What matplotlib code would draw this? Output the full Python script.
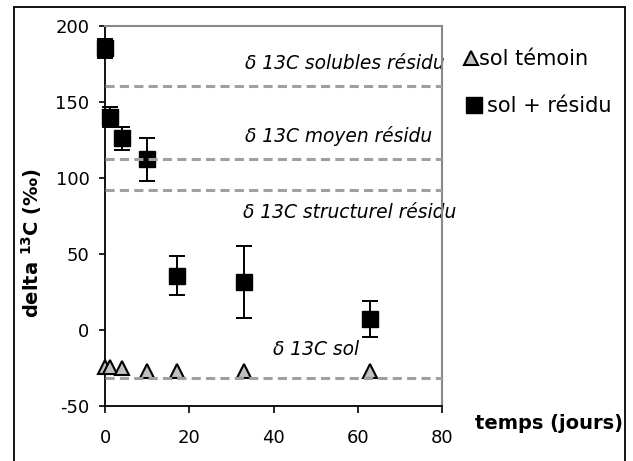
import matplotlib
matplotlib.use("Agg")
import matplotlib.pyplot as plt
from matplotlib.lines import Line2D
from matplotlib.patches import Rectangle

plt.rcParams["axes.unicode_minus"] = False

# sol + residu (moyenne et ecart)
jours_residu = [0, 1, 4, 10, 17, 33, 63]
delta_residu = [185, 140, 126, 112, 35.5, 31.5, 7]
erreur_residu = [6, 6.7, 7.5, 14, 13, 23.5, 12]

# sol temoin
jours_temoin = [0, 1, 4, 10, 17, 33, 63]
delta_temoin = [-24.5, -24.5, -25, -27, -27, -27, -27]

# valeurs de reference (lignes pointillees)
ref_noms = ["solubles résidu", "moyen résidu", "structurel résidu", "sol"]
ref_valeurs = [160, 112.5, 92, -32]
ref_texte_x = [33.3, 33.3, 32.8, 39.9]
ref_texte_y = [171.5, 123.5, 73.5, -16.6]

W, H = 633, 461
fig = plt.figure(figsize=(W / 100, H / 100), dpi=100)
ax = fig.add_axes([105.3 / W, 1 - 405.7 / H, (441.7 - 105.3) / W, (405.7 - 25.7) / H])

ax.errorbar(jours_residu, delta_residu, yerr=erreur_residu, fmt="s", color="black",
            markersize=11, ecolor="black", elinewidth=1.4, capsize=5.6, capthick=1.4,
            clip_on=False, zorder=3)
ax.plot(jours_temoin, delta_temoin, "^", markersize=10.5, markerfacecolor="#c0c0c0",
        markeredgecolor="black", markeredgewidth=1.5, clip_on=False, zorder=3,
        linestyle="none")

for v in ref_valeurs:
    ax.axhline(v, color="#a0a0a0", linewidth=2.2, dashes=(3, 1.7), zorder=4)

for nom, tx, ty in zip(ref_noms, ref_texte_x, ref_texte_y):
    ax.text(tx, ty, "δ 13C " + nom, fontsize=13.4, style="italic", ha="left",
            va="baseline", zorder=1)

ax.set_xlim(0, 80)
ax.set_ylim(-50, 200)
ax.set_xticks([0, 20, 40, 60, 80])
ax.set_yticks([-50, 0, 50, 100, 150, 200])
ax.tick_params(axis="both", labelsize=13, direction="out", width=1.2, color="black")
ax.tick_params(axis="y", length=4.3, pad=7)
ax.tick_params(axis="x", length=5, pad=12)

for s in ["left", "bottom"]:
    ax.spines[s].set_color("black")
    ax.spines[s].set_linewidth(1.3)
for s in ["top", "right"]:
    ax.spines[s].set_color("#888888")
    ax.spines[s].set_linewidth(1.5)

# legende manuelle
fig.add_artist(Line2D([471 / W], [1 - 58 / H], marker="^", markersize=10,
                      markerfacecolor="#c0c0c0", markeredgecolor="black",
                      markeredgewidth=1.5, transform=fig.transFigure))
fig.text(479 / W, 1 - 65 / H, "sol témoin", fontsize=15, va="baseline")
fig.add_artist(Line2D([473.7 / W], [1 - 105 / H], marker="s", markersize=11,
                      color="black", transform=fig.transFigure))
fig.text(487 / W, 1 - 111.7 / H, "sol + résidu", fontsize=15, va="baseline")

fig.text(475 / W, 1 - 429 / H, "temps (jours)", fontsize=14, fontweight="bold",
         va="baseline")
fig.text(32 / W, 1 - 243 / H, r"delta $^{\mathbf{13}}$C (‰)", fontsize=14,
         fontweight="bold", rotation=90, ha="center", va="center")

fig.add_artist(Rectangle((14 / W, -0.02), (625 - 14) / W, 1 - 7 / H + 0.02,
                         fill=False, edgecolor="black", linewidth=1.3,
                         transform=fig.transFigure))

fig.savefig("out.png", dpi=100)
